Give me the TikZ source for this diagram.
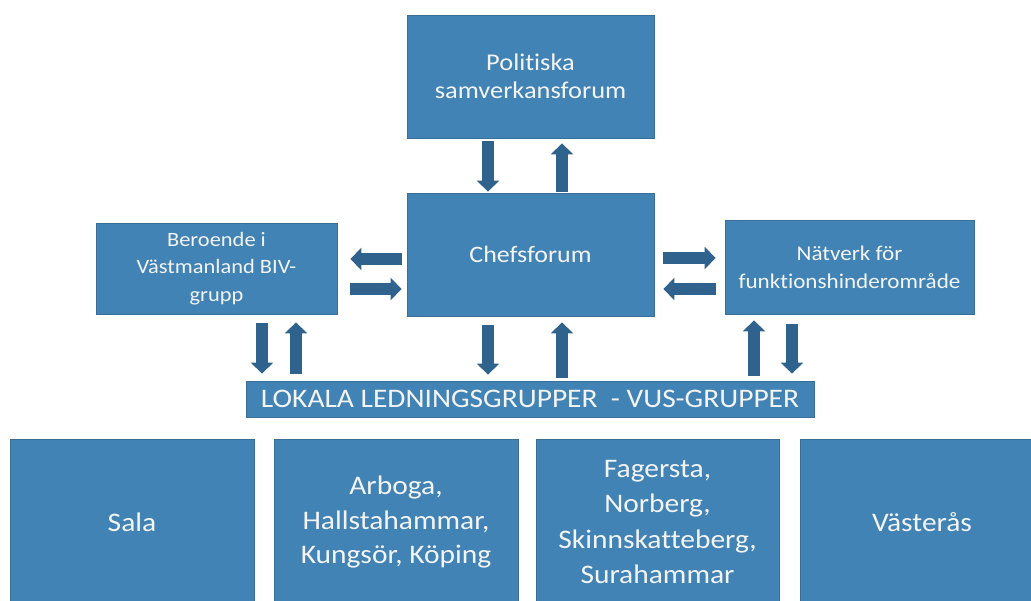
\documentclass[tikz,border=0pt]{standalone}
\usepackage{fontspec}
\setmainfont{Carlito}[FakeStretch=1.1, Ligatures={NoCommon}]
\usetikzlibrary{arrows.meta}
\definecolor{boxfill}{HTML}{4183B4}
\definecolor{boxline}{HTML}{3A6E98}
\definecolor{arrowcol}{HTML}{2F628C}
\definecolor{txt}{HTML}{F4F4F4}
\tikzset{
  box/.style={draw=boxline, line width=0.8pt, fill=boxfill, text=txt, align=center, inner sep=0pt, anchor=center},
  barrow/.style={draw=arrowcol, line width=11.5pt, -{Triangle[width=22pt,length=11pt]}, arrowcol},
}
\begin{document}
\begin{tikzpicture}[x=1pt,y=-1pt]
\useasboundingbox (0,0) rectangle (1031,601);
\clip (0,0) rectangle (1031,601);
\node[box, minimum width=247pt, minimum height=123pt, font=\fontsize{24}{28}\selectfont] (pol) at (530.5,76.5) {Politiska\\samverkansforum};
\node[box, minimum width=247pt, minimum height=123pt, font=\fontsize{23.6}{28}\selectfont] (chef) at (530.5,254.5) {Chefsforum};
\node[box, minimum width=241pt, minimum height=91pt, font=\fontsize{20.4}{27.5}\selectfont] (ber) at (216.5,268.5) {Beroende i\\Västmanland BIV-\\grupp};
\node[box, minimum width=249pt, minimum height=94pt, font=\fontsize{21}{28}\selectfont] (nat) at (849.5,267) {Nätverk för\\funktionshinderområde};
\node[box, minimum width=568pt, minimum height=36pt, font=\fontsize{26.8}{28}\selectfont] (lok) at (530,399) {LOKALA LEDNINGSGRUPPER\ \ - VUS-GRUPPER};
\node[box, minimum width=244pt, minimum height=166pt, font=\fontsize{26.8}{34.5}\selectfont] (sala) at (132,522) {Sala};
\node[box, minimum width=244pt, minimum height=166pt, font=\fontsize{26.8}{34.5}\selectfont] (arb) at (396,522) {Arboga,\\Hallstahammar,\\Kungsör, Köping};
\node[box, minimum width=243pt, minimum height=166pt, font=\fontsize{26.8}{35.5}\selectfont] (fag) at (657.5,522) {Fagersta,\\Norberg,\\Skinnskatteberg,\\Surahammar};
\node[box, minimum width=244pt, minimum height=166pt, font=\fontsize{26.8}{34.5}\selectfont] (vas) at (922,522) {Västerås};
% pol <-> chef
\draw[barrow, shorten <=3pt, shorten >=1pt] ([xshift=-42.5pt]pol.south) -- ([xshift=-42.5pt]chef.north);
\draw[barrow, shorten <=1pt, shorten >=5pt] ([xshift=31.5pt]chef.north) -- ([xshift=31.5pt]pol.south);
% chef <-> ber
\draw[barrow, shorten <=5pt, shorten >=13pt] ([yshift=-4.5pt]chef.west) -- ([yshift=9.5pt]ber.east);
\draw[barrow, shorten <=13pt, shorten >=5pt] ([yshift=-20.5pt]ber.east) -- ([yshift=-34.5pt]chef.west);
% chef <-> nat
\draw[barrow, shorten <=9pt, shorten >=9pt] ([yshift=-3.5pt]chef.east) -- ([yshift=9pt]nat.west);
\draw[barrow, shorten <=9pt, shorten >=9pt] ([yshift=-22pt]nat.west) -- ([yshift=-34.5pt]chef.east);
% chef <-> lok
\draw[barrow, shorten <=9pt, shorten >=6pt] ([xshift=-42.5pt]chef.south) -- ([xshift=-42pt]lok.north);
\draw[barrow, shorten <=3pt, shorten >=6pt] ([xshift=32pt]lok.north) -- ([xshift=31.5pt]chef.south);
% ber <-> lok
\draw[barrow, shorten <=9pt, shorten >=7pt] ([xshift=45.5pt]ber.south) -- ([xshift=-268pt]lok.north);
\draw[barrow, shorten <=7pt, shorten >=8pt] ([xshift=-234pt]lok.north) -- ([xshift=79.5pt]ber.south);
% nat <-> lok
\draw[barrow, shorten <=5pt, shorten >=6pt] ([xshift=224pt]lok.north) -- ([xshift=-95.5pt]nat.south);
\draw[barrow, shorten <=10pt, shorten >=7pt] ([xshift=-57.5pt]nat.south) -- ([xshift=262pt]lok.north);
\end{tikzpicture}
\end{document}
